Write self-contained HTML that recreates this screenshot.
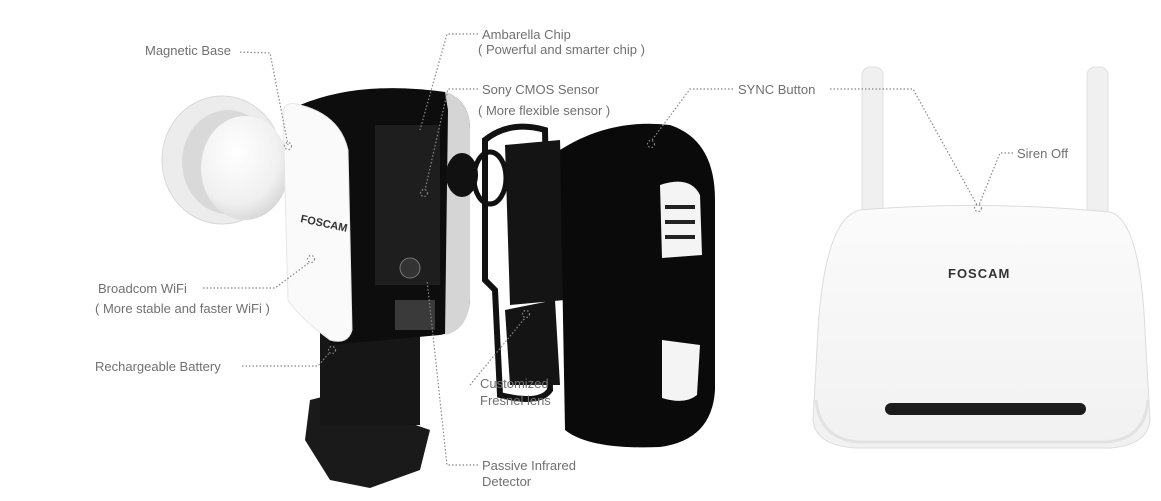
<!DOCTYPE html>
<html><head><meta charset="utf-8"><style>
html,body{margin:0;padding:0;background:#fff;width:1161px;height:501px;overflow:hidden}
svg{display:block}
text{font-family:"Liberation Sans",sans-serif;font-size:13px;fill:#707070}
.d{fill:none;stroke:#888;stroke-width:1.2;stroke-dasharray:1.5 2}
</style></head><body>
<svg width="1161" height="501" viewBox="0 0 1161 501">
<defs>
<radialGradient id="ball" cx="0.4" cy="0.35" r="0.7"><stop offset="0" stop-color="#fff"/><stop offset="0.7" stop-color="#f0f0f0"/><stop offset="1" stop-color="#d4d4d4"/></radialGradient>
<linearGradient id="rt" x1="0" y1="0" x2="0" y2="1"><stop offset="0" stop-color="#fbfbfb"/><stop offset="1" stop-color="#f1f1f1"/></linearGradient>
</defs>
<!-- magnetic base -->
<ellipse cx="222" cy="160" rx="60" ry="64" fill="#ececec" stroke="#d8d8d8"/>
<ellipse cx="228" cy="162" rx="46" ry="52" fill="#d9d9d9"/>
<ellipse cx="245" cy="168" rx="44" ry="52" fill="url(#ball)"/>
<!-- foot -->
<path d="M310 400 L330 395 L430 430 L420 470 L370 488 L330 480 L305 440 Z" fill="#1a1a1a"/>
<!-- battery -->
<rect x="320" y="315" width="100" height="110" fill="#161616"/>
<!-- body -->
<path d="M300 105 Q360 80 445 92 Q470 100 470 130 L470 300 Q468 330 440 335 L330 345 Z" fill="#0d0d0d"/>
<path d="M445 92 Q470 100 470 130 L470 300 Q468 330 445 335 L448 110 Z" fill="#d5d5d5"/>
<rect x="375" y="125" width="65" height="160" fill="#2a2a2a" opacity="0.6"/>
<circle cx="410" cy="268" r="10" fill="#333" stroke="#777"/>
<rect x="395" y="300" width="40" height="30" fill="#3a3a3a"/>
<path d="M283 112 Q285 100 300 105 Q340 115 348 150 L352 330 Q348 345 330 340 Q300 318 288 300 Z" fill="#fafafa" stroke="#e6e6e6"/>
<text x="300" y="222" style="font-size:11px;fill:#333;font-weight:bold" transform="rotate(12 300 222)">FOSCAM</text>
<!-- lens ring -->
<ellipse cx="462" cy="175" rx="16" ry="22" fill="#111"/>
<ellipse cx="490" cy="178" rx="16" ry="26" fill="none" stroke="#111" stroke-width="5"/>
<!-- lens frame -->
<path d="M485 140 Q510 120 545 130 L550 390 Q540 405 500 395 L495 290 L485 280 Z" fill="none" stroke="#111" stroke-width="6"/>
<path d="M505 145 L560 140 L565 300 L510 305 Z" fill="#141414"/>
<path d="M505 310 L555 300 L560 385 L510 385 Z" fill="#141414"/>
<!-- back cover -->
<path d="M560 150 Q610 118 670 125 Q715 140 715 200 L715 390 Q712 440 660 447 Q590 450 565 430 Z" fill="#0a0a0a"/>
<path d="M660 185 Q690 175 700 195 L702 255 L662 258 Z" fill="#f4f4f4"/>
<path d="M662 340 L700 345 L697 395 Q685 405 662 398 Z" fill="#f4f4f4"/>
<rect x="665" y="205" width="30" height="4" fill="#222"/>
<rect x="665" y="220" width="30" height="4" fill="#222"/>
<rect x="665" y="235" width="30" height="4" fill="#222"/>
<!-- router -->
<rect x="862" y="67" width="21" height="150" rx="8" fill="#f0f0f0" stroke="#e0e0e0"/>
<rect x="1087" y="67" width="21" height="150" rx="8" fill="#f0f0f0" stroke="#e0e0e0"/>
<path d="M860 210 Q980 200 1110 212 Q1140 220 1145 330 L1150 420 Q1148 445 1110 448 L855 448 Q815 445 813 420 L818 330 Q825 218 860 210 Z" fill="url(#rt)" stroke="#dcdcdc"/>
<path d="M816 400 Q820 440 860 442 L1105 442 Q1145 440 1148 400" fill="none" stroke="#e2e2e2" stroke-width="3"/>
<rect x="885" y="403" width="201" height="12" rx="6" fill="#1c1c1c"/>
<text x="948" y="278" style="font-size:13px;fill:#333;font-weight:bold;letter-spacing:1px">FOSCAM</text>
<!-- leaders -->
<path class="d" d="M240 52 L270 53 L288 145"/>
<circle class="d" cx="288" cy="146" r="3.5"/>
<path class="d" d="M478 34 L447 34 L420 130"/>
<path class="d" d="M478 89 L448 89 L425 190"/>
<circle class="d" cx="424" cy="193" r="3.5"/>
<path class="d" d="M733 89 L690 89 L652 140"/>
<circle class="d" cx="651" cy="144" r="3.5"/>
<path class="d" d="M830 89 L913 89 L977 205"/>
<path class="d" d="M1013 153 L1000 153 L979 205"/>
<circle class="d" cx="978" cy="208" r="3.5"/>
<path class="d" d="M203 288 L275 288 L310 262"/>
<circle class="d" cx="311" cy="259" r="3.5"/>
<path class="d" d="M242 366 L318 366 L330 352"/>
<circle class="d" cx="332" cy="350" r="3.5"/>
<path class="d" d="M470 385 L525 318"/>
<circle class="d" cx="526" cy="314" r="3.5"/>
<path class="d" d="M478 465 L447 465 L427 280"/>
<!-- labels -->
<text x="145" y="55">Magnetic Base</text>
<text x="482" y="39">Ambarella Chip</text>
<text x="478" y="54">( Powerful and smarter chip )</text>
<text x="482" y="94">Sony CMOS Sensor</text>
<text x="478" y="115">( More flexible sensor )</text>
<text x="738" y="94">SYNC Button</text>
<text x="1017" y="158">Siren Off</text>
<text x="98" y="293">Broadcom WiFi</text>
<text x="95" y="313">( More stable and faster WiFi )</text>
<text x="95" y="371">Rechargeable Battery</text>
<text x="480" y="388">Customized</text>
<text x="480" y="405">Fresnel lens</text>
<text x="482" y="470">Passive Infrared</text>
<text x="482" y="486">Detector</text>
</svg>
</body></html>
